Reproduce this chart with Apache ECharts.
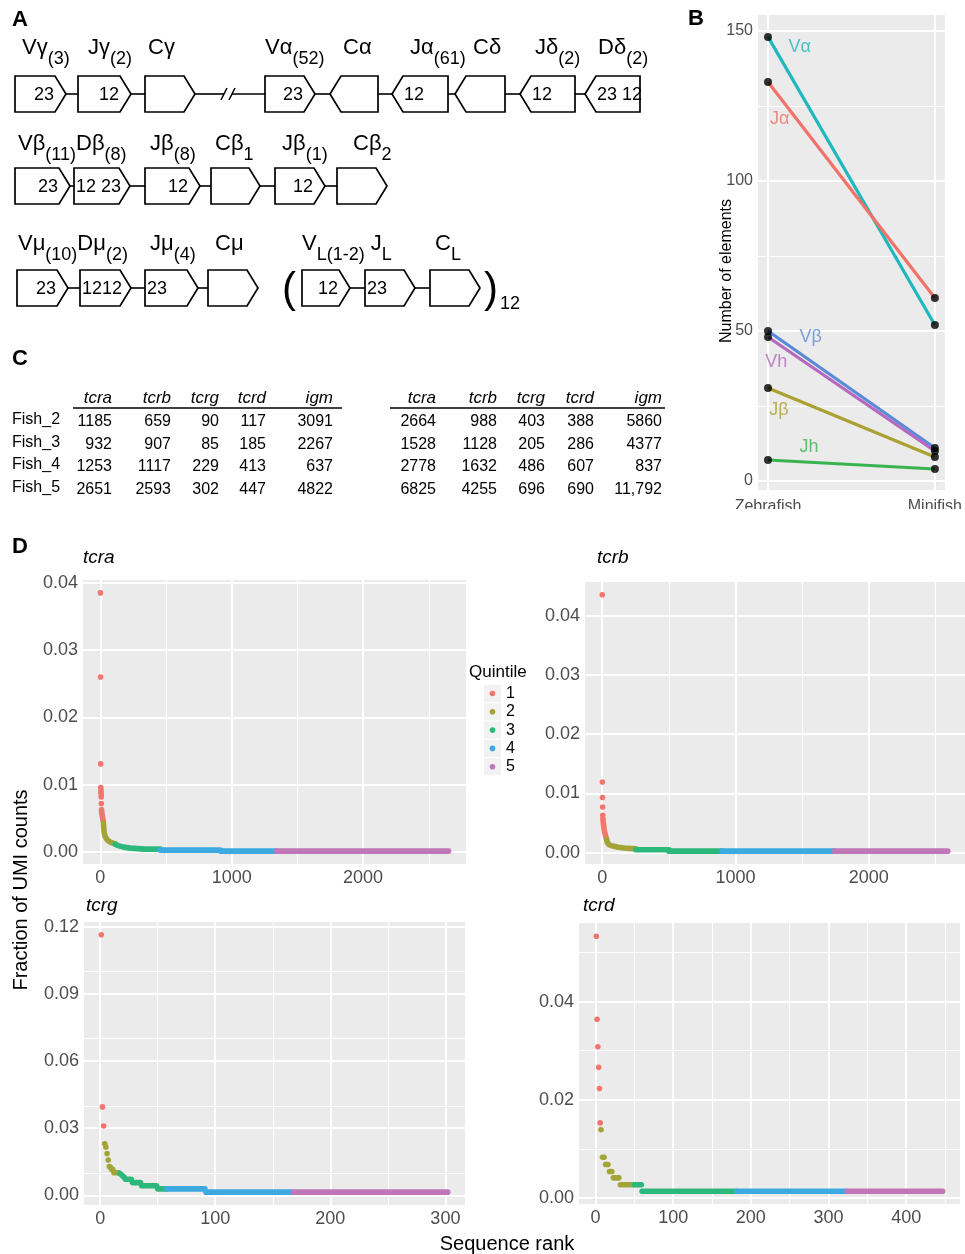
<!DOCTYPE html>
<html><head><meta charset="utf-8">
<script src="https://cdn.jsdelivr.net/npm/echarts@6/dist/echarts.min.js"></script>
<style>html,body{margin:0;padding:0;background:#fff}#c{width:965px;height:1254px}</style>
</head><body><div id="c"></div>
<script>
// ---------------- DATA ----------------
// Panel A (schematic labels)
const aRow1Labels = [['Vγ','(3)'],['Jγ','(2)'],['Cγ'],['Vα','(52)'],['Cα'],['Jα','(61)'],['Cδ'],['Jδ','(2)'],['Dδ','(2)']];
const aRow1BoxText = ['23','12','','23','','12','','12','23 12'];
const aRow1Dir = ['r','r','r','r','l','l','l','l','l'];
const aRow2Labels = [['Vβ','(11)','Dβ','(8)'],['Jβ','(8)'],['Cβ','1'],['Jβ','(1)'],['Cβ','2']];
const aRow2BoxText = ['23','12 23','12','','12',''];
const aRow2Dir = ['r','r','r','r','r','r'];
const aRow3Labels = [['Vμ','(10)','Dμ','(2)'],['Jμ','(4)'],['Cμ'],['V','L(1-2)',' J','L'],['C','L']];
const aRow3BoxText = ['23','1212','23','','12','23',''];
const aRow3Dir = ['r','r','r','r','r','r','r'];
const aRepeat = '12';

// Panel B
const bCategories = ['Zebrafish', 'Minifish'];
const bNames = ['Vα', 'Jα', 'Vβ', 'Vh', 'Jβ', 'Jh'];
const bVa = [148, 52];
const bJa = [133, 61];
const bVb = [50, 11];
const bVh = [48, 10];
const bJb = [31, 8];
const bJh = [7, 4];
const bYTicks = [0, 50, 100, 150];
const bYMinor = [25, 75, 125];

// Panel C
const cColumns = ['tcra', 'tcrb', 'tcrg', 'tcrd', 'igm'];
const cRows = ['Fish_2', 'Fish_3', 'Fish_4', 'Fish_5'];
const cLeft = [[1185, 659, 90, 117, 3091], [932, 907, 85, 185, 2267], [1253, 1117, 229, 413, 637], [2651, 2593, 302, 447, 4822]];
const cRight = [[2664, 988, 403, 388, 5860], [1528, 1128, 205, 286, 4377], [2778, 1632, 486, 607, 837], [6825, 4255, 696, 690, 11792]];

// Panel D : strokes of [rank, fraction]; single point = dot, several = run of overlapping dots
const quintiles = ['1', '2', '3', '4', '5'];
const tcraQ1 = [[[1,0.0385]],[[2,0.0260]],[[3,0.0131]],[[4,0.0096],[7,0.0082]],[[8,0.0072]],[[9,0.0063],[14,0.0055],[23,0.0045]]];
const tcraQ2 = [[[24,0.0043],[26,0.0036],[30,0.0028],[38,0.0023],[50,0.0019],[65,0.0016],[85,0.0014],[114,0.0012]]];
const tcraQ3 = [[[114,0.00118],[130,0.0010],[150,0.00088],[177,0.00074],[230,0.00059],[304,0.00048],[340,0.00044],[457,0.00044]]];
const tcraQ4 = [[[457,0.00029],[914,0.00029]],[[914,0.000147],[1341,0.000147]]];
const tcraQ5 = [[[1341,0.000147],[2651,0.000147]]];

const tcrbQ1 = [[[1,0.0435]],[[2,0.0119]],[[3,0.0093]],[[4,0.0077]],[[5,0.0063]],[[6,0.0058],[8,0.0052],[11,0.0046],[15,0.0039],[20,0.0033],[26,0.0028],[32,0.0024]]];
const tcrbQ2 = [[[33,0.0022],[38,0.0018],[45,0.0015],[55,0.0013],[70,0.00118],[90,0.00105],[120,0.0009],[166,0.00078],[210,0.0007],[253,0.00065]]];
const tcrbQ3 = [[[253,0.00047],[501,0.00047]],[[501,0.000235],[899,0.000235]]];
const tcrbQ4 = [[[899,0.000235],[1744,0.000235]]];
const tcrbQ5 = [[[1744,0.000235],[2593,0.000235]]];

const tcrgQ1 = [[[1,0.1164]],[[2,0.0395]],[[3,0.0310]]];
const tcrgQ2 = [[[4,0.0230]],[[5,0.0216]],[[6,0.0187]],[[7,0.0158]],[[8,0.0129]],[[9,0.0125]],[[10,0.0115],[11,0.0115]],[[12,0.0101],[16,0.0101]]];
const tcrgQ3 = [[[17,0.0098],[21,0.0080]],[[22,0.0072],[27,0.0072]],[[28,0.0057],[35,0.0057]],[[36,0.0043],[49,0.0043]],[[50,0.0029],[58,0.0029]]];
const tcrgQ4 = [[[58,0.0029],[91,0.0029]],[[92,0.00144],[167,0.00144]]];
const tcrgQ5 = [[[168,0.00144],[302,0.00144]]];

const tcrdQ1 = [[[1,0.0533]],[[2,0.0364]],[[3,0.0308]],[[4,0.0266]],[[5,0.0223]],[[6,0.0153]]];
const tcrdQ2 = [[[7,0.0139]],[[9,0.0083],[11,0.0083]],[[13,0.0068],[16,0.0068]],[[18,0.0054],[21,0.0054]],[[23,0.0041],[30,0.0041]],[[32,0.0027],[49,0.0027]]];
const tcrdQ3 = [[[50,0.0027],[59,0.0027]],[[60,0.00137],[181,0.00137]]];
const tcrdQ4 = [[[182,0.00137],[323,0.00137]]];
const tcrdQ5 = [[[324,0.00137],[447,0.00137]]];

const tcraXTicks = [0, 1000, 2000], tcraXMinor = [500, 1500, 2500];
const tcraYTicks = [0, 0.01, 0.02, 0.03, 0.04], tcraYMinor = [0.005, 0.015, 0.025, 0.035];
const tcrbXTicks = [0, 1000, 2000], tcrbXMinor = [500, 1500, 2500];
const tcrbYTicks = [0, 0.01, 0.02, 0.03, 0.04], tcrbYMinor = [0.005, 0.015, 0.025, 0.035, 0.045];
const tcrgXTicks = [0, 100, 200, 300], tcrgXMinor = [50, 150, 250];
const tcrgYTicks = [0, 0.03, 0.06, 0.09, 0.12], tcrgYMinor = [0.015, 0.045, 0.075, 0.105];
const tcrdXTicks = [0, 100, 200, 300, 400], tcrdXMinor = [50, 150, 250, 350, 450];
const tcrdYTicks = [0, 0.02, 0.04], tcrdYMinor = [0.01, 0.03, 0.05];

// ---------------- STYLE / LAYOUT ----------------
const FONT = "'Liberation Sans', Arial, Helvetica, sans-serif";
const BG = '#EBEBEB';
const TICKC = '#4D4D4D';
const qColors = ['#F3766E', '#A3A437', '#2DB87B', '#3CAAE0', '#BF77B7'];
const bColors = ['#1FB8BE', '#F07268', '#5B8AD6', '#B468BE', '#ABA032', '#37B44F'];
const DOT_R = 2.8;

const chart = echarts.init(document.getElementById('c'), null, {renderer: 'canvas', width: 965, height: 1254});
const graphics = [];

function addText(x, y, text, o) {
  graphics.push({type: 'text', x: x, y: y, rotation: (o && o.rotation) || 0, silent: true, z: 50,
    style: Object.assign({text: text, fill: '#000', fontFamily: FONT, fontSize: 16, align: 'left', verticalAlign: 'middle'}, (o && o.style) || {})});
}
function addLine(x1, y1, x2, y2, w) {
  graphics.push({type: 'line', silent: true, z: 50, shape: {x1, y1, x2, y2}, style: {stroke: '#000', lineWidth: w || 1.6}});
}
function richLabel(x, yTop, parts) {
  const text = parts.map((p, i) => (i % 2 === 0 ? '{m|' : '{s|') + p + '}').join('');
  graphics.push({type: 'text', x: x, y: yTop, silent: true, z: 50, style: {text: text, align: 'left', verticalAlign: 'top', fill: '#000',
    rich: {m: {fontSize: 22, fontFamily: FONT, lineHeight: 31, verticalAlign: 'top', fill: '#000'},
           s: {fontSize: 18, fontFamily: FONT, lineHeight: 31, verticalAlign: 'bottom', fill: '#000'}}}});
}
const BOX_H = 36, TIP = 11;
function box(x0, x1, y, dir, text, align) {
  const pts = dir === 'r'
    ? [[x0, y], [x1 - TIP, y], [x1, y + BOX_H / 2], [x1 - TIP, y + BOX_H], [x0, y + BOX_H]]
    : [[x0, y + BOX_H / 2], [x0 + TIP, y], [x1, y], [x1, y + BOX_H], [x0 + TIP, y + BOX_H]];
  graphics.push({type: 'polygon', silent: true, z: 50, shape: {points: pts}, style: {fill: '#fff', stroke: '#000', lineWidth: 1.7}});
  if (text) {
    let tx, ta;
    if (dir === 'r') { if (align === 'L') { tx = x0 + 2; ta = 'left'; } else { tx = x1 - TIP - 1; ta = 'right'; } }
    else { tx = x0 + TIP + 1; ta = 'left'; }
    addText(tx, y + BOX_H / 2 + 1, text, {style: {fontSize: 18, align: ta}});
  }
}
function row(labels, labelX, labelTop, texts, dirs, boxX, aligns, y, breakAfter, skipAfter) {
  labels.forEach((p, i) => richLabel(labelX[i], labelTop, p));
  boxX.forEach((b, i) => {
    if (i < boxX.length - 1 && i !== skipAfter) {
      const a = b[1], c = boxX[i + 1][0], my = y + BOX_H / 2;
      if (breakAfter === i) {
        const m = (a + c) / 2 - 2;
        addLine(a, my, m - 4, my); addLine(m + 4, my, c, my);
        addLine(m - 7, my + 6, m - 1, my - 6); addLine(m + 1, my + 6, m + 7, my - 6);
      } else if (c > a) addLine(a, my, c, my);
    }
  });
  boxX.forEach((b, i) => box(b[0], b[1], y, dirs[i], texts[i], aligns[i]));
}

// Panel letters
addText(12, 20, 'A', {style: {fontSize: 22, fontWeight: 'bold'}});
addText(688, 19, 'B', {style: {fontSize: 22, fontWeight: 'bold'}});
addText(12, 359, 'C', {style: {fontSize: 22, fontWeight: 'bold'}});
addText(12, 547, 'D', {style: {fontSize: 22, fontWeight: 'bold'}});

// Panel A layout
row(aRow1Labels, [22, 88, 148, 265, 343, 410, 473, 535, 598], 37, aRow1BoxText, aRow1Dir,
  [[15, 66], [78, 131], [145, 195], [265, 315], [330, 378], [392, 448], [455, 505], [520, 575], [585, 640]],
  ['R', 'R', 'R', 'R', 'L', 'L', 'L', 'L', 'L'], 76, 2, -1);
row(aRow2Labels, [18, 150, 215, 282, 353], 133, aRow2BoxText, aRow2Dir,
  [[15, 70], [74, 130], [145, 200], [211, 260], [275, 325], [337, 387]],
  ['R', 'L', 'R', 'R', 'R', 'R'], 168, -1, -1);
row(aRow3Labels, [18, 150, 215, 302, 435], 233, aRow3BoxText, aRow3Dir,
  [[17, 68], [80, 131], [145, 198], [208, 258], [302, 350], [365, 415], [430, 480]],
  ['R', 'L', 'L', 'R', 'R', 'L', 'R'], 270, -1, 3);
addText(282, 290, '(', {style: {fontSize: 42}});
addText(484, 290, ')', {style: {fontSize: 42}});
addText(500, 304, aRepeat, {style: {fontSize: 18}});

// Panel C table
const cLeftColRight = [112, 171, 219, 266, 333];
const cRightColRight = [436, 497, 545, 594, 662];
const cHeaderY = 398, cRowY = [422, 445, 467, 490];
function fmtN(n) { return n >= 10000 ? n.toLocaleString('en-US') : String(n); }
[[cLeft, cLeftColRight, 73, 342], [cRight, cRightColRight, 390, 665]].forEach(t => {
  cColumns.forEach((c, j) => addText(t[1][j], cHeaderY, c, {style: {fontSize: 17, fontStyle: 'italic', align: 'right'}}));
  addLine(t[2], 408, t[3], 408, 1.6);
  t[0].forEach((r, i) => r.forEach((v, j) => addText(t[1][j], cRowY[i], fmtN(v), {style: {fontSize: 16, align: 'right'}})));
});
cRows.forEach((r, i) => addText(12, cRowY[i] - 2, r, {style: {fontSize: 16}}));

// Panel D titles and legend
addText(83, 558, 'tcra', {style: {fontSize: 19, fontStyle: 'italic'}});
addText(597, 558, 'tcrb', {style: {fontSize: 19, fontStyle: 'italic'}});
addText(86, 906, 'tcrg', {style: {fontSize: 19, fontStyle: 'italic'}});
addText(583, 906, 'tcrd', {style: {fontSize: 19, fontStyle: 'italic'}});
addText(21, 890, 'Fraction of UMI counts', {rotation: Math.PI / 2, style: {fontSize: 20, align: 'center'}});
addText(507, 1244, 'Sequence rank', {style: {fontSize: 20, align: 'center'}});
addText(727, 271, 'Number of elements', {rotation: Math.PI / 2, style: {fontSize: 16, align: 'center'}});
addText(469, 672, 'Quintile', {style: {fontSize: 17}});
quintiles.forEach((q, i) => {
  const cy = 693.5 + i * 18.3;
  graphics.push({type: 'rect', silent: true, z: 50, shape: {x: 484, y: cy - 8.6, width: 17, height: 17.2}, style: {fill: '#F2F2F2'}});
  graphics.push({type: 'circle', silent: true, z: 51, shape: {cx: 492.5, cy: cy, r: DOT_R}, style: {fill: qColors[i]}});
  addText(506, cy, q, {style: {fontSize: 16}});
});
// crop of panel B at its bottom edge, as in the figure
graphics.push({type: 'rect', silent: true, z: 100, shape: {x: 690, y: 509, width: 275, height: 22}, style: {fill: '#fff'}});

// ---------------- AXES / GRIDS ----------------
const grids = [
  {left: 758, top: 15, width: 189, height: 475},
  {left: 83, top: 580, width: 383, height: 284},
  {left: 585, top: 582, width: 383, height: 282},
  {left: 84, top: 922, width: 381, height: 283},
  {left: 579, top: 923, width: 381, height: 281}
].map(g => Object.assign(g, {show: true, backgroundColor: BG, borderWidth: 0}));

function axis(gi, min, max, ticks, fmt, fs) {
  return {type: 'value', gridIndex: gi, min: min, max: max, scale: true,
    splitLine: {show: false}, minorSplitLine: {show: false}, axisLine: {show: false},
    axisTick: {show: true, length: 3, lineStyle: {color: '#333', width: 1.1}, customValues: ticks},
    axisLabel: {show: true, customValues: ticks, formatter: fmt, color: TICKC, fontSize: fs, fontFamily: FONT, margin: 5}};
}
const fx = v => String(v);
const fy = v => v.toFixed(2);
const xAxes = [
  axis(0, -0.06, 1.06, [0, 1], v => bCategories[Math.round(v)], 16),
  axis(1, -131.5, 2783.5, tcraXTicks, fx, 18),
  axis(2, -128.6, 2722.6, tcrbXTicks, fx, 18),
  axis(3, -14.05, 317.05, tcrgXTicks, fx, 18),
  axis(4, -21.3, 469.3, tcrdXTicks, fx, 18)
];
xAxes[0].axisLabel.margin = 9;
const yAxes = [
  axis(0, -3.0, 155.3, bYTicks, fx, 16),
  axis(1, -0.00177, 0.04042, tcraYTicks, fy, 18),
  axis(2, -0.00193, 0.04566, tcrbYTicks, fy, 18),
  axis(3, -0.00431, 0.1221, tcrgYTicks, fy, 18),
  axis(4, -0.00123, 0.0560, tcrdYTicks, fy, 18)
];

function gridLines(i, xMaj, xMin, yMaj, yMin) {
  const maj = {color: '#FFFFFF', width: 2, type: 'solid'};
  const min = {color: '#FFFFFF', width: 1, type: 'solid'};
  const d = [];
  yMin.forEach(v => d.push({yAxis: v, lineStyle: min}));
  xMin.forEach(v => d.push({xAxis: v, lineStyle: min}));
  yMaj.forEach(v => d.push({yAxis: v, lineStyle: maj}));
  xMaj.forEach(v => d.push({xAxis: v, lineStyle: maj}));
  return {type: 'line', xAxisIndex: i, yAxisIndex: i, data: [], z: 1, silent: true, animation: false,
    markLine: {z: 1, silent: true, symbol: ['none', 'none'], label: {show: false}, animation: false, emphasis: {disabled: true}, data: d}};
}

function quintileSeries(i, strokes, color, name) {
  return {type: 'custom', name: name, xAxisIndex: i, yAxisIndex: i, z: 3, clip: true, silent: true, animation: false,
    data: strokes.map(s => s[0]),
    renderItem: function (params, api) {
      const s = strokes[params.dataIndex];
      const pts = s.map(p => api.coord(p));
      if (pts.length === 1) return {type: 'circle', shape: {cx: pts[0][0], cy: pts[0][1], r: DOT_R}, style: {fill: color}};
      return {type: 'polyline', shape: {points: pts}, style: {stroke: color, lineWidth: DOT_R * 2, lineCap: 'round', lineJoin: 'round', fill: 'none'}};
    }};
}

const series = [];
series.push(gridLines(0, [0, 1], [], bYTicks, bYMinor));
series.push(gridLines(1, tcraXTicks, tcraXMinor, tcraYTicks, tcraYMinor));
series.push(gridLines(2, tcrbXTicks, tcrbXMinor, tcrbYTicks, tcrbYMinor));
series.push(gridLines(3, tcrgXTicks, tcrgXMinor, tcrgYTicks, tcrgYMinor));
series.push(gridLines(4, tcrdXTicks, tcrdXMinor, tcrdYTicks, tcrdYMinor));

// Panel B lines, points, labels
const bSeriesVals = [bVa, bJa, bVb, bVh, bJb, bJh];
bSeriesVals.forEach((vals, k) => series.push({type: 'line', name: bNames[k], xAxisIndex: 0, yAxisIndex: 0, z: 3, silent: true, animation: false,
  showSymbol: false, data: vals.map((v, j) => [j, v]), lineStyle: {color: bColors[k], width: 3.2}}));
const bPts = [];
bSeriesVals.forEach(vals => vals.forEach((v, j) => bPts.push([j, v])));
series.push({type: 'scatter', xAxisIndex: 0, yAxisIndex: 0, z: 4, silent: true, animation: false, symbolSize: 8,
  itemStyle: {color: '#000'}, data: bPts});
const bLabelPos = [[0.19, 144.7], [0.07, 120.6], [0.255, 48.1], [0.05, 39.8], [0.066, 23.7], [0.245, 11.2]];
series.push({type: 'scatter', xAxisIndex: 0, yAxisIndex: 0, z: 5, silent: true, animation: false, symbolSize: 1,
  itemStyle: {color: 'rgba(0,0,0,0)'},
  data: bNames.map((n, k) => ({name: n, value: bLabelPos[k], label: {color: bColors[k]}})),
  label: {show: true, position: 'inside', formatter: '{b}', fontSize: 18, fontFamily: FONT}});

// Panel D quintile marks
[[tcraQ1, tcraQ2, tcraQ3, tcraQ4, tcraQ5], [tcrbQ1, tcrbQ2, tcrbQ3, tcrbQ4, tcrbQ5],
 [tcrgQ1, tcrgQ2, tcrgQ3, tcrgQ4, tcrgQ5], [tcrdQ1, tcrdQ2, tcrdQ3, tcrdQ4, tcrdQ5]].forEach((qs, p) => {
  qs.forEach((st, q) => series.push(quintileSeries(p + 1, st, qColors[q], quintiles[q])));
});

chart.setOption({
  animation: false,
  backgroundColor: '#FFFFFF',
  textStyle: {fontFamily: FONT},
  grid: grids,
  xAxis: xAxes,
  yAxis: yAxes,
  series: series,
  graphic: {elements: graphics}
});
</script></body></html>
